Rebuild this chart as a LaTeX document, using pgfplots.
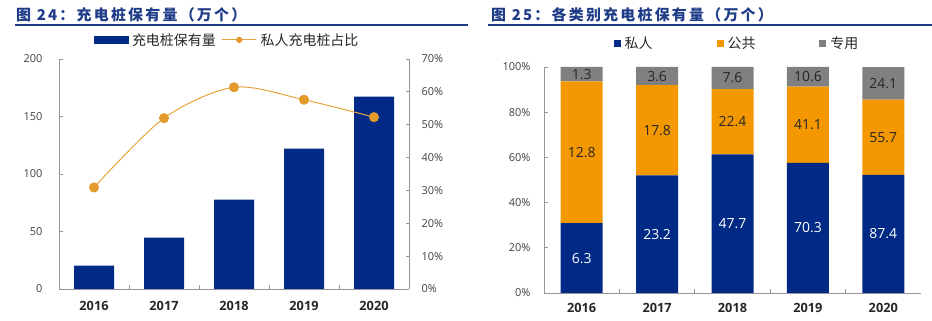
\documentclass[border=0pt]{standalone}
\usepackage{fontspec}
\usepackage{pgfplots}
\pgfplotsset{compat=1.18}
\setmainfont{Open Sans}
\newfontfamily\cjk{Noto Sans CJK SC}
\definecolor{barblue}{RGB}{0,42,134}
\definecolor{lineor}{RGB}{232,164,60}
\definecolor{markor}{RGB}{226,154,45}
\definecolor{pubor}{RGB}{243,152,0}
\definecolor{gry}{RGB}{128,128,128}
\definecolor{titleblue}{RGB}{31,60,136}
\definecolor{axgray}{RGB}{150,150,150}
\definecolor{txt}{RGB}{64,64,64}
\pgfplotsset{
  /pgf/number format/assume math mode=true,
  base/.style={
    scale only axis, anchor=south west,
    xmin=-0.5, xmax=4.5,
    axis line style={axgray, line width=0.8bp},
    tick style={axgray, line width=0.8bp},
    major tick length=3.5bp, tick align=inside,
    yticklabel style={font=\fontsize{11}{11}\selectfont, text=txt},
    xticklabel style={font=\bfseries\fontsize{12.8}{12.8}\selectfont, text=black!85},
  },
}
\begin{document}
\begin{tikzpicture}
\path[use as bounding box] (0bp,0bp) rectangle (932bp,321bp);
% titles
\node[anchor=base west, inner sep=0pt, text=titleblue, font=\cjk\bfseries\fontsize{15}{15}\selectfont\addfontfeatures{LetterSpace=15}] at (16bp,300bp) {图 24：充电桩保有量（万个）};
\draw[titleblue, line width=1.2bp] (15bp,296bp) -- (468bp,296bp);
\node[anchor=base west, inner sep=0pt, text=titleblue, font=\cjk\bfseries\fontsize{15}{15}\selectfont\addfontfeatures{LetterSpace=15}] at (491bp,300bp) {图 25：各类别充电桩保有量（万个）};
\draw[titleblue, line width=1.2bp] (488bp,296bp) -- (932bp,296bp);

% left chart: bars
\begin{axis}[base, at={(59bp,32bp)}, width=350bp, height=230bp,
  ymin=0, ymax=200, ytick={0,50,100,150,200},
  axis x line*=bottom, axis y line*=left,
  xtick={0.5,1.5,2.5,3.5}, xticklabels={},
  extra x ticks={0,1,2,3,4}, extra x tick labels={2016,2017,2018,2019,2020},
  extra x tick style={major tick length=0pt},
  yticklabel style={xshift=-13bp},
  xticklabel style={yshift=-9bp},
]
\addplot[ybar, bar width=40bp, fill=barblue, draw=none] coordinates {(0,20.4) (1,44.6) (2,77.7) (3,122.0) (4,167.2)};
\end{axis}
% left chart: share line on right axis
\begin{axis}[base, at={(59bp,32bp)}, width=350bp, height=230bp,
  ymin=0, ymax=70, ytick={0,10,...,70},
  yticklabel={\pgfmathprintnumber{\tick}\%},
  axis y line*=right, axis x line=none,
  yticklabel style={xshift=9bp},
  legend columns=2,
  legend style={draw=none, fill=none, at={(0.48,1.083)}, anchor=center,
    font=\cjk\fontsize{14}{14}\selectfont, text=black!85,
    /tikz/every odd column/.append style={column sep=2bp},
    /tikz/every even column/.append style={column sep=4bp}},
]
\addlegendimage{legend image code/.code={\fill[barblue] (0bp,-3.5bp) rectangle (34bp,3.5bp);}}
\addlegendentry{充电桩保有量}
\addplot[lineor, line width=1bp, smooth, tension=0.5, mark=*, mark size=4.5bp,
  mark options={fill=markor, draw=markor},
  legend image code/.code={\draw[lineor, line width=1bp] (0bp,0bp) -- (34bp,0bp); \fill[markor] (17bp,0bp) circle (2.6bp);}]
  coordinates {(0,30.9) (1,52.0) (2,61.4) (3,57.6) (4,52.3)};
\addlegendentry{私人充电桩占比}
\end{axis}

% right chart: stacked shares
\begin{axis}[base, at={(544bp,28bp)}, width=377bp, height=226bp,
  ybar stacked, bar width=42bp,
  ymin=0, ymax=100, ytick={0,20,...,100},
  yticklabel={\pgfmathprintnumber{\tick}\%},
  axis x line*=bottom, axis y line*=left,
  xtick={0.5,1.5,2.5,3.5}, xticklabels={},
  extra x ticks={0,1,2,3,4}, extra x tick labels={2016,2017,2018,2019,2020},
  extra x tick style={major tick length=0pt},
  yticklabel style={xshift=-10bp},
  xticklabel style={yshift=-7bp},
  legend columns=3,
  legend style={draw=none, fill=none, at={(0.512,1.106)}, anchor=center,
    font=\cjk\fontsize{14}{14}\selectfont, text=black!85,
    /tikz/every odd column/.append style={column sep=2bp},
    /tikz/every even column/.append style={column sep=62bp}},
  legend image code/.code={\path[#1] (0bp,-3.5bp) rectangle (7bp,3.5bp);},
]
\addplot[fill=barblue, draw=none] coordinates {(0,30.88) (1,52.02) (2,61.39) (3,57.62) (4,52.27)};
\addlegendentry{私人}
\addplot[fill=pubor, draw=none] coordinates {(0,62.75) (1,39.91) (2,28.83) (3,33.69) (4,33.31)};
\addlegendentry{公共}
\addplot[fill=gry, draw=none] coordinates {(0,6.37) (1,8.07) (2,9.78) (3,8.69) (4,14.41)};
\addlegendentry{专用}
\end{axis}
% right chart: value labels (万个)
\begin{axis}[at={(544bp,28bp)}, anchor=south west, scale only axis, width=377bp, height=226bp,
  xmin=-0.5, xmax=4.5, ymin=0, ymax=100, hide axis,
  nodes near coords, point meta=explicit symbolic,
  nodes near coords style={anchor=center, font=\fontsize{14}{14}\selectfont},
]
\addplot[draw=none, mark=none, nodes near coords style={text=white}] coordinates {(0,15.44) [6.3] (1,26.01) [23.2] (2,30.70) [47.7] (3,28.81) [70.3] (4,26.14) [87.4]};
\addplot[draw=none, mark=none, nodes near coords style={text=black!85}] coordinates {(0,62.25) [12.8] (1,71.97) [17.8] (2,75.80) [22.4] (3,74.46) [41.1] (4,68.93) [55.7]};
\addplot[draw=none, mark=none, nodes near coords style={text=black!85}] coordinates {(0,96.82) [1.3] (1,95.96) [3.6] (2,95.11) [7.6] (3,95.66) [10.6] (4,92.79) [24.1]};
\end{axis}
\end{tikzpicture}
\end{document}
